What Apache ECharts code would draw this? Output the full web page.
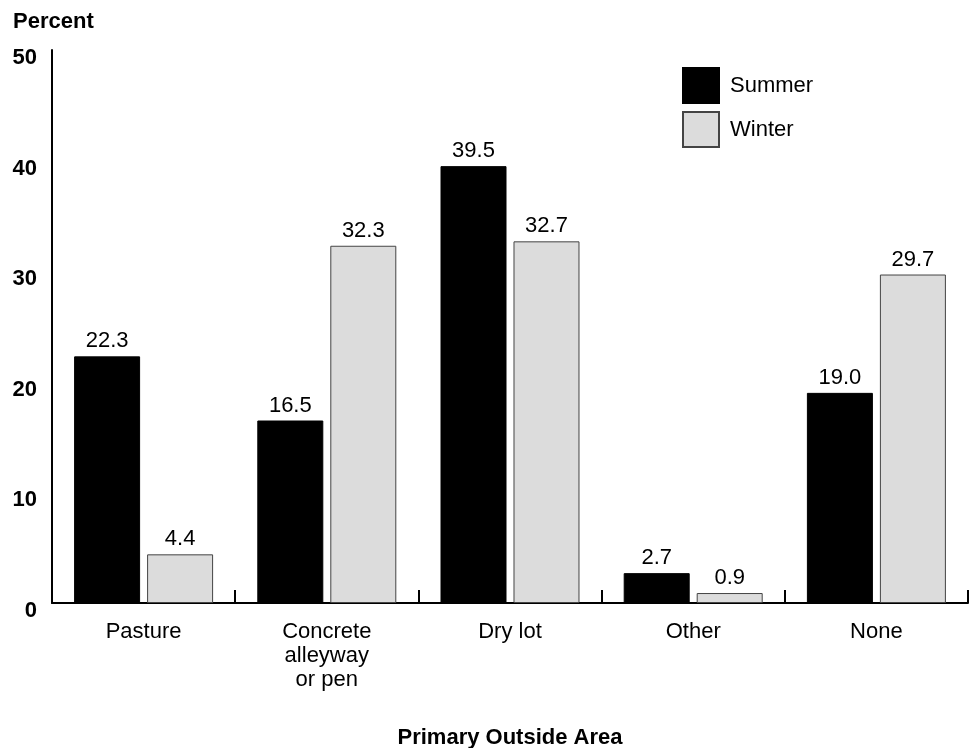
<!DOCTYPE html>
<html><head><meta charset="utf-8">
<script src="https://cdn.jsdelivr.net/npm/echarts@6/dist/echarts.min.js"></script>
<style>html,body{margin:0;padding:0;background:#fff}#c{width:973px;height:748px}</style>
</head><body><div id="c"></div>
<script>
const categories = ["Pasture", "Concrete\nalleyway\nor pen", "Dry lot", "Other", "None"];
const summer = [22.3, 16.5, 39.5, 2.7, 19.0];
const winter = [4.4, 32.3, 32.7, 0.9, 29.7];
const yTicks = [0, 10, 20, 30, 40, 50];
const FONT = '"Liberation Sans", Arial, sans-serif';
const chart = echarts.init(document.getElementById('c'), null, {renderer: 'canvas'});
chart.setOption({
  animation: false,
  textStyle: {fontFamily: FONT},
  title: {text: 'Percent', left: 8, top: 6, textStyle: {fontFamily: FONT, fontSize: 22, fontWeight: 'bold', color: '#000'}},
  legend: {
    orient: 'vertical', left: 682, top: 67, padding: 0, itemWidth: 36, itemHeight: 35, itemGap: 7,
    icon: 'rect',
    textStyle: {fontFamily: FONT, fontSize: 22, color: '#000', padding: [0, 0, 0, 6]},
    data: ['Summer', 'Winter']
  },
  grid: {left: 52, right: 5, top: 50, bottom: 145, containLabel: false, outerBoundsMode: 'none'},
  xAxis: {
    type: 'category', data: categories,
    name: 'Primary Outside Area', nameLocation: 'middle', nameGap: 124,
    nameTextStyle: {fontFamily: FONT, fontSize: 22, fontWeight: 'bold', color: '#000'},
    axisLine: {lineStyle: {color: '#000', width: 2}},
    axisTick: {show: true, inside: true, length: 13, alignWithLabel: false, lineStyle: {color: '#000', width: 2}},
    axisLabel: {fontFamily: FONT, fontSize: 22, color: '#000', margin: 17, lineHeight: 24}
  },
  yAxis: {
    type: 'value', min: yTicks[0], max: yTicks[yTicks.length - 1], interval: 10,
    axisLine: {show: true, lineStyle: {color: '#000', width: 2}},
    axisTick: {show: false},
    splitLine: {show: false},
    axisLabel: {fontFamily: FONT, fontSize: 22, fontWeight: 'bold', color: '#000', margin: 15, verticalAlign: 'top', lineHeight: 16}
  },
  series: [
    {name: 'Summer', type: 'bar', data: summer, barWidth: 66, barGap: '10.6%',
     itemStyle: {color: '#000', borderColor: '#000', borderWidth: 1},
     label: {show: true, position: 'top', distance: 4, fontFamily: FONT, fontSize: 22, color: '#000', formatter: p => p.value.toFixed(1)}},
    {name: 'Winter', type: 'bar', data: winter, barWidth: 66,
     itemStyle: {color: '#dcdcdc', borderColor: '#444', borderWidth: 1},
     label: {show: true, position: 'top', distance: 4, fontFamily: FONT, fontSize: 22, color: '#000', formatter: p => p.value.toFixed(1)}}
  ]
});
</script></body></html>
